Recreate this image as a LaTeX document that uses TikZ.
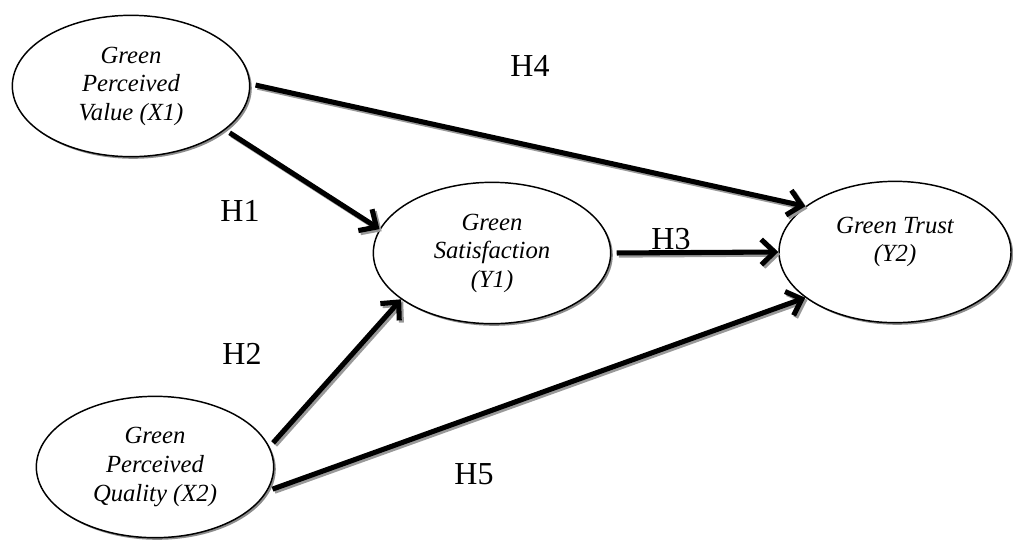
\documentclass[tikz,border=0pt]{standalone}
\usepackage{fontspec}
\setmainfont{Liberation Serif}
\usetikzlibrary{arrows.meta,shapes.geometric,shadows}
\tikzset{
  latent/.style={ellipse, draw=black, line width=1.1pt, fill=white, inner sep=0pt,
    minimum width=178pt, minimum height=106pt, align=center,
    font=\fontsize{18.5pt}{21.4pt}\selectfont\itshape,
    drop shadow={shadow xshift=1.6pt, shadow yshift=-1.6pt, fill=black!45, opacity=1}},
  lbl/.style={inner sep=0pt, font=\fontsize{24pt}{28pt}\selectfont},
  arr/.style={line width=3.8pt, -{Straight Barb[length=10pt, width=19pt]}, shorten <=4pt},
  arrshadow/.style={arr, draw=black!40, transform canvas={xshift=1.6pt, yshift=-1.6pt}}
}
\newcommand\hyparrow[2]{%
  \draw[arrshadow] #1 -- #2;
  \draw[arr] #1 -- #2;}
\begin{document}
\begin{tikzpicture}[x=0.75pt, y=-0.75pt]
\useasboundingbox (0,0) rectangle (1013,540);
\node[latent] (x1) at (131,86) {Green\\Perceived\\Value (X1)};
\node[latent] (y1) at (492,253) {Green\\Satisfaction\\(Y1)};
\node[latent, minimum width=174pt] (y2) at (895,252) {};
\node[inner sep=0pt, align=center, font=\fontsize{18.5pt}{21.4pt}\selectfont\itshape] (y2t) at (895,242) {Green Trust\\(Y2)};
\node[latent] (x2) at (155,467) {Green\\Perceived\\Quality (X2)};

\node[lbl] (h4) at (530,66) {H4};
\node[lbl] (h1) at (240,211) {H1};
\node[lbl] (h2) at (242,354) {H2};
\node[lbl] (h3) at (671,239) {H3};
\node[lbl] (h5) at (474,474) {H5};

\hyparrow{(x1.1)}{(y2.153)}
\hyparrow{(x1.-25)}{(y1.168)}
\hyparrow{(y1.east)}{(y2.west)}
\hyparrow{(x2.10)}{(y1.-153)}
\hyparrow{(x2.-12)}{(y2.-153)}
\end{tikzpicture}
\end{document}
